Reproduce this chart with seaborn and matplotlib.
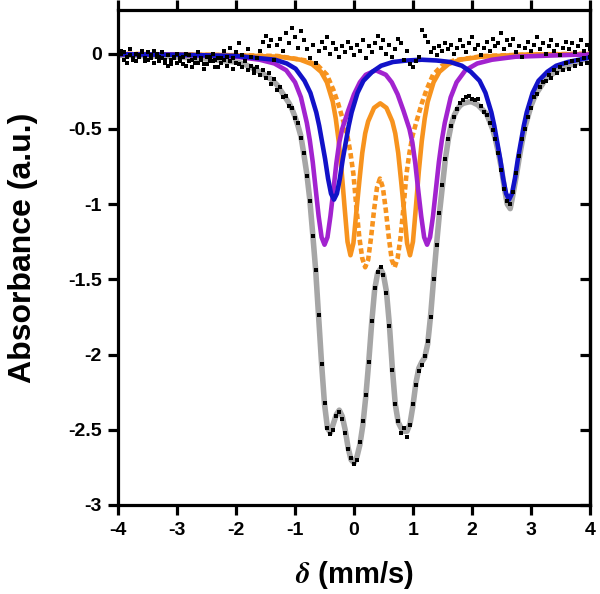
import matplotlib
matplotlib.use("Agg")
import matplotlib.pyplot as plt
import seaborn as sns

# velocity channels of the measured spectrum (mm/s)
dot_x = [
    -4.00, -3.95, -3.90, -3.85, -3.80, -3.75, -3.70, -3.65, -3.60, -3.55,
    -3.50, -3.45, -3.40, -3.35, -3.30, -3.25, -3.20, -3.15, -3.10, -3.05,
    -3.00, -2.95, -2.90, -2.85, -2.80, -2.75, -2.70, -2.65, -2.60, -2.55,
    -2.50, -2.45, -2.40, -2.35, -2.30, -2.25, -2.20, -2.15, -2.10, -2.05,
    -2.00, -1.95, -1.90, -1.85, -1.80, -1.75, -1.70, -1.65, -1.60, -1.55,
    -1.50, -1.45, -1.40, -1.35, -1.30, -1.25, -1.20, -1.15, -1.10, -1.05,
    -1.00, -0.95, -0.90, -0.85, -0.80, -0.75, -0.70, -0.65, -0.60, -0.55,
    -0.50, -0.45, -0.40, -0.35, -0.30, -0.25, -0.20, -0.15, -0.10, -0.05,
    0.00, 0.05, 0.10, 0.15, 0.20, 0.25, 0.30, 0.35, 0.40, 0.45,
    0.50, 0.55, 0.60, 0.65, 0.70, 0.75, 0.80, 0.85, 0.90, 0.95,
    1.00, 1.05, 1.10, 1.15, 1.20, 1.25, 1.30, 1.35, 1.40, 1.45,
    1.50, 1.55, 1.60, 1.65, 1.70, 1.75, 1.80, 1.85, 1.90, 1.95,
    2.00, 2.05, 2.10, 2.15, 2.20, 2.25, 2.30, 2.35, 2.40, 2.45,
    2.50, 2.55, 2.60, 2.65, 2.70, 2.75, 2.80, 2.85, 2.90, 2.95,
    3.00, 3.05, 3.10, 3.15, 3.20, 3.25, 3.30, 3.35, 3.40, 3.45,
    3.50, 3.55, 3.60, 3.65, 3.70, 3.75, 3.80, 3.85, 3.90, 3.95,
    4.00,
]

# measured points that follow the total fit
spec_y = [
    0.03, 0.02, -0.04, -0.06, -0.01, -0.03, -0.05, -0.02, 0.01, -0.03,
    -0.04, -0.01, 0.02, -0.02, -0.05, -0.03, -0.06, -0.08, -0.04, -0.02,
    -0.06, -0.03, -0.07, 0.00, -0.05, -0.09, -0.03, -0.06, -0.04, -0.10,
    -0.07, -0.02, -0.05, -0.09, -0.03, -0.06, -0.04, -0.08, -0.05, -0.10,
    -0.06, -0.07, -0.09, -0.05, -0.11, -0.08, -0.13, -0.09, -0.14, -0.11,
    -0.16, -0.13, -0.20, -0.17, -0.24, -0.22, -0.29, -0.28, -0.35, -0.36,
    -0.43, -0.46, -0.56, -0.66, -0.81, -0.98, -1.21, -1.44, -1.74, -2.06,
    -2.32, -2.49, -2.53, -2.50, -2.41, -2.38, -2.43, -2.52, -2.63, -2.69,
    -2.73, -2.70, -2.58, -2.44, -2.27, -2.05, -1.78, -1.56, -1.45, -1.42,
    -1.47, -1.59, -1.81, -2.10, -2.33, -2.44, -2.52, -2.49, -2.55, -2.47,
    -2.33, -2.20, -2.11, -2.07, -2.01, -1.91, -1.75, -1.50, -1.27, -1.06,
    -0.87, -0.70, -0.57, -0.48, -0.42, -0.37, -0.33, -0.31, -0.29, -0.28,
    -0.30, -0.31, -0.30, -0.35, -0.39, -0.41, -0.46, -0.51, -0.57, -0.66,
    -0.77, -0.90, -0.98, -1.00, -0.92, -0.79, -0.68, -0.57, -0.50, -0.42,
    -0.36, -0.29, -0.27, -0.22, -0.19, -0.18, -0.14, -0.16, -0.11, -0.13,
    -0.09, -0.11, -0.06, -0.10, -0.05, -0.08, -0.04, -0.07, -0.03, -0.06,
    -0.02,
]

# second set of points scattered round the baseline
base_y = [
    0.04, 0.00, 0.01, -0.02, 0.03, -0.04, 0.00, -0.01, 0.02, -0.05,
    0.01, -0.03, -0.06, 0.00, -0.02, 0.01, -0.04, -0.01, -0.07, -0.03,
    0.00, -0.05, -0.02, -0.08, -0.01, -0.04, -0.06, 0.01, -0.03, -0.07,
    -0.02, -0.05, 0.00, -0.04, -0.09, -0.03, 0.02, -0.02, 0.04, -0.03,
    0.01, 0.07, -0.01, -0.05, 0.03, -0.02, -0.10, -0.03, 0.02, 0.08,
    0.12, 0.05, 0.09, -0.04, 0.06, 0.10, 0.02, 0.14, 0.07, 0.17,
    0.11, 0.04, 0.15, 0.09, 0.03, -0.03, 0.06, -0.06, 0.02, 0.08,
    0.04, 0.11, 0.00, 0.07, 0.03, -0.02, 0.05, 0.01, 0.08, 0.04,
    -0.01, 0.06, 0.02, 0.09, -0.03, 0.05, 0.01, 0.07, 0.12, 0.04,
    0.09, 0.00, 0.06, -0.02, 0.03, 0.10, 0.07, -0.04, 0.02, -0.07,
    -0.09, -0.05, -0.02, 0.16, 0.12, 0.08, 0.01, 0.04, -0.01, 0.05,
    0.02, 0.07, 0.03, 0.06, 0.00, 0.04, 0.09, 0.05, 0.01, 0.07,
    0.11, 0.03, 0.06, -0.01, 0.04, 0.08, 0.02, 0.10, 0.05, 0.07,
    0.14, 0.03, 0.09, 0.06, 0.10, 0.01, 0.05, -0.02, 0.04, 0.08,
    0.02, 0.06, 0.11, 0.03, 0.07, 0.00, 0.05, 0.09, 0.02, 0.06,
    -0.01, 0.04, 0.08, 0.03, 0.07, 0.01, 0.05, 0.09, 0.02, 0.06,
    0.03,
]

# total fit (grey), sampled on the same channels
total_y = [
    -0.010, -0.010, -0.010, -0.011, -0.011, -0.012, -0.012, -0.013, -0.013, -0.014,
    -0.014, -0.015, -0.015, -0.016, -0.017, -0.017, -0.018, -0.019, -0.020, -0.021,
    -0.022, -0.023, -0.024, -0.025, -0.026, -0.027, -0.029, -0.030, -0.032, -0.033,
    -0.035, -0.037, -0.039, -0.041, -0.043, -0.045, -0.047, -0.049, -0.051, -0.053,
    -0.055, -0.060, -0.065, -0.072, -0.080, -0.090, -0.100, -0.110, -0.120, -0.130,
    -0.145, -0.160, -0.170, -0.190, -0.210, -0.240, -0.270, -0.300, -0.330, -0.370,
    -0.42, -0.48, -0.55, -0.67, -0.80, -0.97, -1.20, -1.44, -1.75, -2.06,
    -2.33, -2.49, -2.52, -2.46, -2.40, -2.37, -2.41, -2.50, -2.62, -2.70,
    -2.72, -2.68, -2.60, -2.47, -2.28, -2.05, -1.79, -1.57, -1.46, -1.43,
    -1.47, -1.58, -1.80, -2.09, -2.33, -2.45, -2.49, -2.51, -2.51, -2.46,
    -2.34, -2.19, -2.09, -2.05, -2.02, -1.93, -1.74, -1.50, -1.27, -1.06,
    -0.88, -0.70, -0.57, -0.47, -0.41, -0.37, -0.345, -0.33, -0.325, -0.32,
    -0.32, -0.33, -0.34, -0.36, -0.38, -0.40, -0.45, -0.50, -0.57, -0.66,
    -0.76, -0.89, -1.00, -1.03, -0.93, -0.82, -0.70, -0.59, -0.49, -0.42,
    -0.35, -0.30, -0.26, -0.23, -0.20, -0.17, -0.155, -0.14, -0.125, -0.11,
    -0.10, -0.09, -0.085, -0.08, -0.07, -0.065, -0.055, -0.045, -0.04, -0.03,
    -0.02,
]

# blue doublet
blue_x = [-4.0, -3.0, -2.0, -1.34, -1.14, -0.99, -0.84, -0.74, -0.64, -0.59,
          -0.54, -0.49, -0.44, -0.39, -0.34, -0.29, -0.24, -0.19, -0.14, -0.09,
          -0.04, 0.06, 0.16, 0.31, 0.46, 0.66, 0.90, 1.15, 1.40, 1.63,
          1.83, 1.98, 2.13, 2.23, 2.33, 2.38, 2.43, 2.48, 2.53, 2.58,
          2.63, 2.68, 2.73, 2.78, 2.83, 2.88, 2.93, 3.03, 3.13, 3.28,
          3.43, 3.63, 4.0]
blue_y = [-0.004, -0.007, -0.015, -0.04, -0.065, -0.10, -0.18, -0.26, -0.39, -0.48,
          -0.59, -0.70, -0.83, -0.93, -0.97, -0.93, -0.83, -0.70, -0.59, -0.48,
          -0.39, -0.26, -0.18, -0.12, -0.08, -0.055, -0.045, -0.04, -0.045, -0.055,
          -0.08, -0.12, -0.18, -0.26, -0.39, -0.48, -0.59, -0.70, -0.83, -0.93,
          -0.97, -0.93, -0.83, -0.70, -0.59, -0.48, -0.39, -0.26, -0.18, -0.12,
          -0.08, -0.055, -0.025]

# purple doublet
purple_x = [-4.0, -3.0, -2.0, -1.6, -1.35, -1.15, -1.0, -0.9, -0.8, -0.75,
            -0.70, -0.65, -0.60, -0.55, -0.50, -0.45, -0.40, -0.35, -0.30, -0.25,
            -0.20, -0.10, 0.0, 0.10, 0.20, 0.37, 0.54, 0.64, 0.74, 0.84,
            0.94, 0.99, 1.04, 1.09, 1.14, 1.19, 1.24, 1.29, 1.34, 1.39,
            1.44, 1.49, 1.54, 1.64, 1.74, 1.89, 2.09, 2.34, 2.74, 3.74,
            4.0]
purple_y = [-0.003, -0.007, -0.02, -0.04, -0.065, -0.11, -0.19, -0.29, -0.46, -0.575,
            -0.72, -0.90, -1.08, -1.22, -1.27, -1.22, -1.08, -0.91, -0.73, -0.59,
            -0.50, -0.38, -0.27, -0.19, -0.14, -0.11, -0.14, -0.19, -0.27, -0.38,
            -0.50, -0.59, -0.73, -0.91, -1.08, -1.22, -1.27, -1.22, -1.08, -0.90,
            -0.72, -0.575, -0.46, -0.29, -0.19, -0.11, -0.065, -0.04, -0.02, -0.007,
            -0.005]

# orange doublet (solid)
orange_x = [-4.0, -3.0, -2.06, -1.26, -0.91, -0.71, -0.56, -0.46, -0.36, -0.31,
            -0.26, -0.21, -0.16, -0.11, -0.06, -0.01, 0.04, 0.09, 0.14, 0.19,
            0.24, 0.34, 0.445, 0.55, 0.65, 0.70, 0.75, 0.80, 0.85, 0.90,
            0.95, 1.00, 1.05, 1.10, 1.15, 1.20, 1.25, 1.35, 1.45, 1.60,
            1.80, 2.15, 2.95, 4.0]
orange_y = [-0.003, -0.005, -0.01, -0.02, -0.04, -0.07, -0.12, -0.19, -0.32, -0.43,
            -0.58, -0.78, -1.02, -1.25, -1.34, -1.26, -1.05, -0.85, -0.66, -0.53,
            -0.45, -0.36, -0.33, -0.36, -0.45, -0.53, -0.66, -0.85, -1.05, -1.26,
            -1.34, -1.25, -1.02, -0.78, -0.58, -0.43, -0.32, -0.19, -0.12, -0.07,
            -0.04, -0.02, -0.005, -0.003]

# orange doublet (dashed)
dash_x = [-4.0, -3.0, -2.0, -1.3, -0.81, -0.61, -0.46, -0.35, -0.27, -0.18,
          -0.11, -0.06, -0.01, 0.04, 0.09, 0.14, 0.19, 0.24, 0.29, 0.34,
          0.39, 0.44, 0.49, 0.54, 0.59, 0.64, 0.69, 0.74, 0.79, 0.84,
          0.89, 0.94, 0.99, 1.06, 1.15, 1.23, 1.34, 1.49, 1.69, 2.19,
          3.0, 4.0]
dash_y = [0.0, -0.005, -0.01, -0.015, -0.045, -0.08, -0.14, -0.24, -0.33, -0.45,
          -0.55, -0.66, -0.80, -1.02, -1.22, -1.36, -1.42, -1.37, -1.22, -1.04,
          -0.89, -0.83, -0.89, -1.04, -1.22, -1.37, -1.42, -1.36, -1.22, -1.02,
          -0.80, -0.66, -0.55, -0.45, -0.33, -0.24, -0.14, -0.08, -0.045, -0.015,
          -0.005, 0.0]

x_ticks = [-4, -3, -2, -1, 0, 1, 2, 3, 4]
x_labels = ["-4", "-3", "-2", "-1", "0", "1", "2", "3", "4"]
y_ticks = [0, -0.5, -1, -1.5, -2, -2.5, -3]
y_labels = ["0", "-0.5", "-1", "-1.5", "-2", "-2.5", "-3"]

sns.set_style("ticks")
plt.rcParams["font.family"] = ["Liberation Sans", "DejaVu Sans"]
plt.rcParams["font.weight"] = "bold"
plt.rcParams["mathtext.fontset"] = "stix"
plt.rcParams["axes.unicode_minus"] = False
plt.rcParams["text.color"] = "black"
plt.rcParams["axes.labelcolor"] = "black"
plt.rcParams["xtick.color"] = "black"
plt.rcParams["ytick.color"] = "black"

fig = plt.figure(figsize=(6, 5.94), dpi=100)
ax = fig.add_axes([0.197, 0.150, 0.786, 0.833])

grey = "#A6A6A6"
blue = "#1212C8"
purple = "#A223CF"
orange = "#F7931E"

sns.lineplot(x=dot_x, y=total_y, color=grey, linewidth=4.0, ax=ax)
sns.lineplot(x=dash_x, y=dash_y, color=orange, linewidth=3.3, ax=ax,
             linestyle=(0, (1.2, 0.7)))
sns.lineplot(x=orange_x, y=orange_y, color=orange, linewidth=3.3, ax=ax)
sns.lineplot(x=purple_x, y=purple_y, color=purple, linewidth=3.3, ax=ax)
sns.lineplot(x=blue_x, y=blue_y, color=blue, linewidth=3.3, ax=ax)
sns.scatterplot(x=dot_x, y=base_y, color="black", marker="s", s=7,
                linewidth=0, ax=ax, zorder=5)
sns.scatterplot(x=dot_x, y=spec_y, color="black", marker="s", s=7,
                linewidth=0, ax=ax, zorder=5)

ax.set_xlim(-4, 4)
ax.set_ylim(-3, 0.29)
ax.set_xticks(x_ticks)
ax.set_xticklabels(x_labels)
ax.set_yticks(y_ticks)
ax.set_yticklabels(y_labels)

for s in ["left", "bottom", "top", "right"]:
    ax.spines[s].set_visible(True)
    ax.spines[s].set_linewidth(2.3)
    ax.spines[s].set_color("black")

ax.tick_params(axis="both", direction="out", length=7, width=2.3,
               labelsize=14, pad=5, colors="black")
ax.tick_params(axis="x", top=True, labeltop=False)
ax.tick_params(axis="y", right=False)

sec = ax.secondary_yaxis("right")
sec.set_yticks(y_ticks)
sec.tick_params(direction="in", length=7, width=2.3, labelright=False,
                colors="black")
sec.spines["right"].set_linewidth(2.3)
sec.spines["right"].set_color("black")

for lab in ax.get_xticklabels() + ax.get_yticklabels():
    lab.set_fontweight("bold")
    lab.set_color("black")

ax.set_xlabel(r"$\delta$ (mm/s)", fontsize=21, fontweight="bold",
              color="black")
ax.set_ylabel("Absorbance (a.u.)", fontsize=23, fontweight="bold",
              color="black")
ax.xaxis.set_label_coords(0.5, -0.11)
ax.yaxis.set_label_coords(-0.17, 0.52)

fig.savefig("out.png", dpi=100)
